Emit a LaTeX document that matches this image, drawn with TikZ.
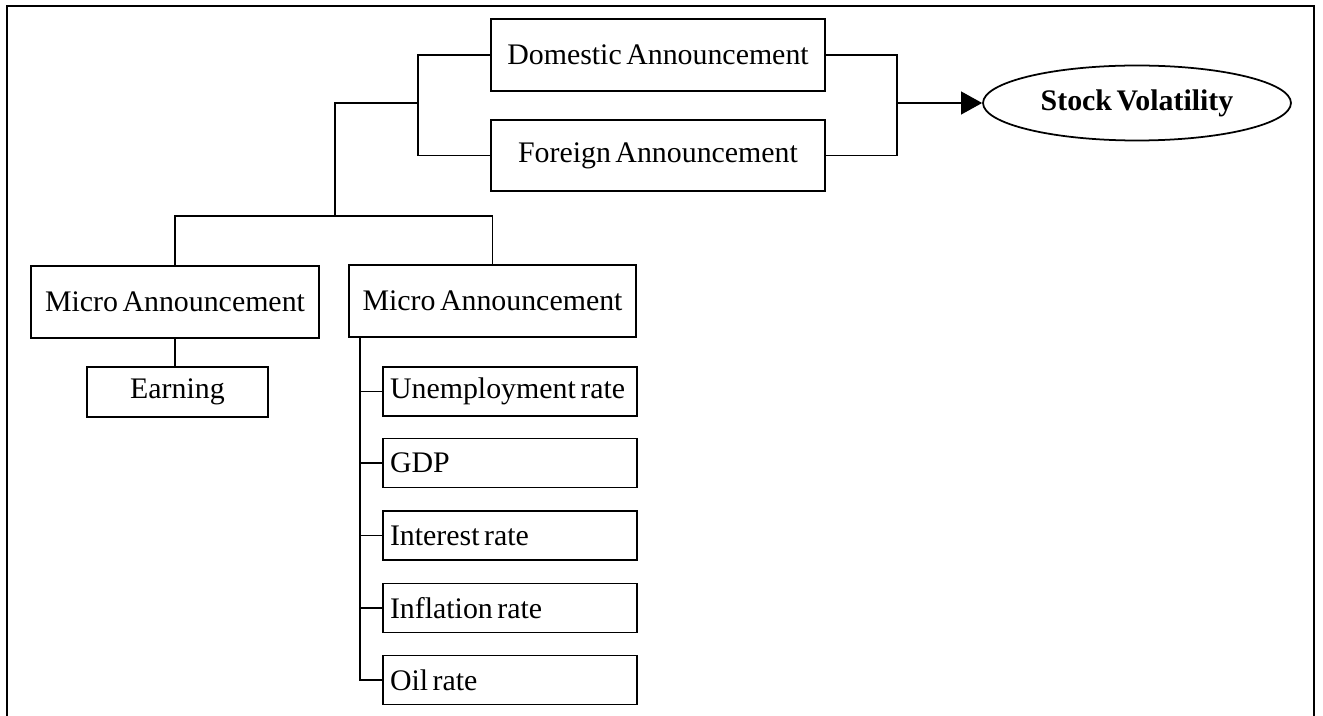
\documentclass[tikz,border=0pt]{standalone}
\usepackage{fontspec}
\setmainfont[WordSpace=0.6]{Liberation Serif}
\usetikzlibrary{positioning,shapes.geometric,arrows.meta}

\tikzset{
  box/.style={draw,line width=1pt,inner sep=0pt,align=center},
  sub/.style={draw,line width=1pt,inner xsep=0.14cm,inner ysep=0pt,minimum height=0.98cm},
  link/.style={line width=1pt}
}

\begin{document}
\begin{tikzpicture}[x=0.02cm,y=-0.02cm,font=\fontsize{17}{20}\selectfont]
\useasboundingbox (0,0) rectangle (1323,716);
\draw[line width=0.9pt] (7,716) -- (7,6) -- (1314,6) -- (1314,716);

\node[box,minimum width=6.68cm,minimum height=1.44cm] (dom) at (658,55) {Domestic Announcement};
\node[box,minimum width=6.68cm,minimum height=1.42cm] (for) at (658,155.5) {Foreign Announcement};
\node[draw,line width=1pt,ellipse,inner sep=0pt,minimum width=6.16cm,minimum height=1.5cm,font=\fontsize{17}{20}\selectfont\bfseries] (vol) at (1137,103) {Stock Volatility};

\node[box,minimum width=5.76cm,minimum height=1.44cm] (miL) at (175,302) {Micro Announcement};
\node[box,minimum width=5.74cm,minimum height=1.44cm] (miR) at (492.5,301) {Micro Announcement};
\node[box,minimum width=3.62cm,minimum height=1cm] (earn) at (177.5,392) {Earning};

\foreach \n/\t/\y in {unemp/Unemployment rate/391.5,gdp/GDP/463,int/Interest rate/535.5,infl/Inflation rate/608,oil/Oil rate/680}
	\node[sub] (\n) at (510,\y) {\makebox[4.8cm][l]{\t}};

\coordinate (lb) at (418,103);
\coordinate (rb) at (897,103);
\coordinate (split) at (335,216);
\coordinate (trunk) at (360,338);

% announcements
\draw[link] (dom.west) -| (lb) |- (for.west);
\draw[link] (dom.east) -| (rb) |- (for.east);
\draw[link,-{Triangle[length=12pt,width=13pt]}] (rb) -- (vol.west);

% micro level
\draw[link] (lb) -| (split);
\draw[link] (miL.north) |- (split) -| (miR.north);
\draw[link] (miL.south) -- (miL.south |- earn.north);
\foreach \n in {unemp,gdp,int,infl,oil}
	\draw[link] (trunk) |- (\n.west);

\end{tikzpicture}
\end{document}
